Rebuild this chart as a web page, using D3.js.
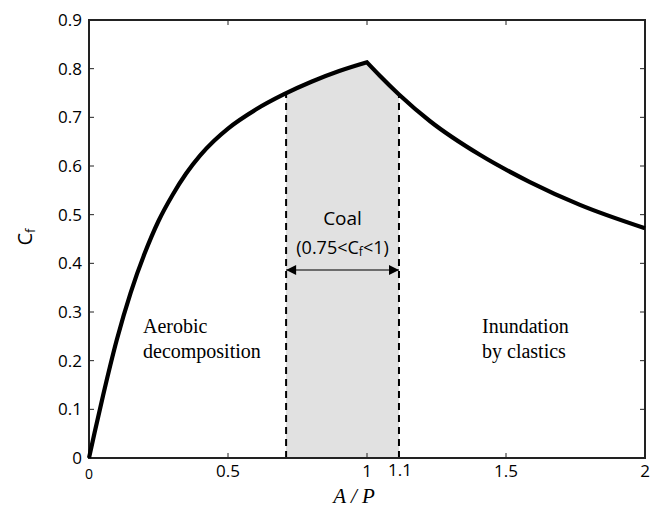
<!DOCTYPE html>
<html><head><meta charset="utf-8">
<script src="https://cdn.jsdelivr.net/npm/d3@7"></script>
<style>body{margin:0;background:#fff}svg{display:block}</style>
</head><body>
<svg id="c" width="653" height="508"></svg>
<script>
// rising branch (aerobic decomposition side)
const riseX = [0, 0.02, 0.05, 0.1, 0.15, 0.2, 0.25, 0.3, 0.35, 0.4, 0.45, 0.5, 0.6, 0.7, 0.8, 0.9, 1.0];
const riseY = [0, 0.052, 0.127, 0.243, 0.340, 0.420, 0.487, 0.540, 0.585, 0.622, 0.652, 0.677, 0.716, 0.747, 0.773, 0.795, 0.813];
// falling branch (inundation side)
const fallX = [1.0, 1.047, 1.115, 1.227, 1.406, 1.586, 1.766, 2.0];
const fallY = [0.813, 0.785, 0.747, 0.692, 0.623, 0.567, 0.520, 0.472];
const coalBounds = [0.709, 1.115];
const coalThreshold = 0.75;
const xTicks = [0, 0.5, 1, 1.5, 2];
const xTickLabels = ["0", "0.5", "1", "1.5", "2"];
const yTicks = [0, 0.1, 0.2, 0.3, 0.4, 0.5, 0.6, 0.7, 0.8, 0.9];
const yTickLabels = ["0", "0.1", "0.2", "0.3", "0.4", "0.5", "0.6", "0.7", "0.8", "0.9"];
const extraXLabel = "1.1";

const svg = d3.select("#c");
const L = 89, R = 645, T = 20, B = 458;
const x = d3.scaleLinear().domain([0, 2]).range([L, R]);
const y = d3.scaleLinear().domain([0, 0.9]).range([B, T]);

const rise = riseX.map((v, i) => [v, riseY[i]]);
const fall = fallX.map((v, i) => [v, fallY[i]]);
const line = d3.line().x(d => x(d[0])).y(d => y(d[1])).curve(d3.curveMonotoneX);
const pathD = line(rise) + line(fall).replace(/^M/, "L");

// shaded coal region
svg.append("clipPath").attr("id", "coalclip").append("rect")
  .attr("x", x(coalBounds[0])).attr("y", T).attr("width", x(coalBounds[1]) - x(coalBounds[0])).attr("height", B - T);
svg.append("path").attr("d", pathD + `L${x(2)},${y(0)}L${x(0)},${y(0)}Z`)
  .attr("fill", "#e1e1e1").attr("clip-path", "url(#coalclip)");

// dashed boundaries
coalBounds.forEach(b => {
  svg.append("line").attr("x1", x(b)).attr("x2", x(b)).attr("y1", y(0)).attr("y2", y(coalThreshold))
    .attr("stroke", "#000").attr("stroke-width", 2).attr("stroke-dasharray", "7,5");
});

// axes box
const ax = svg.append("g").attr("stroke", "#222").attr("stroke-width", 2).attr("fill", "none");
ax.append("rect").attr("x", L).attr("y", T).attr("width", R - L).attr("height", B - T);
const tl = 5;
xTicks.forEach(t => {
  ax.append("line").attr("x1", x(t)).attr("x2", x(t)).attr("y1", B).attr("y2", B - tl).attr("stroke-width", 1);
  ax.append("line").attr("x1", x(t)).attr("x2", x(t)).attr("y1", T).attr("y2", T + tl).attr("stroke-width", 1);
});
yTicks.forEach(t => {
  ax.append("line").attr("x1", L).attr("x2", L + tl).attr("y1", y(t)).attr("y2", y(t)).attr("stroke-width", 1);
  ax.append("line").attr("x1", R).attr("x2", R - tl).attr("y1", y(t)).attr("y2", y(t)).attr("stroke-width", 1);
});

const sans = "'Open Sans', 'Noto Sans', sans-serif";
const serif = "'Liberation Serif', 'Times New Roman', serif";

xTicks.forEach((t, i) => {
  svg.append("text").attr("x", x(t)).attr("y", i === 0 ? 479 : 477)
    .attr("text-anchor", "middle").attr("font-family", sans).attr("font-size", i === 0 ? 14 : 17)
    .attr("fill", "#000").text(xTickLabels[i]);
});
svg.append("text").attr("x", x(coalBounds[1]) + 1).attr("y", 476)
  .attr("text-anchor", "middle").attr("font-family", sans).attr("font-size", 17).text(extraXLabel);

yTicks.forEach((t, i) => {
  svg.append("text").attr("x", 82).attr("y", y(t)).attr("dy", "0.35em")
    .attr("text-anchor", "end").attr("font-family", sans).attr("font-size", 17)
    .attr("fill", "#000").text(yTickLabels[i]);
});

// curve
svg.append("path").attr("d", pathD).attr("fill", "none").attr("stroke", "#000")
  .attr("stroke-width", 4.2).attr("stroke-linejoin", "miter");

// axis labels
svg.append("text").attr("x", 354).attr("y", 503).attr("text-anchor", "middle")
  .attr("font-family", serif).attr("font-style", "italic").attr("font-size", 21).text("A / P");
const yl = svg.append("text").attr("transform", "translate(32,237) rotate(-90)")
  .attr("text-anchor", "middle").attr("font-family", sans).attr("font-size", 20);
yl.append("tspan").text("C");
yl.append("tspan").attr("font-size", 13).attr("dy", 3).text("f");

// annotations
const t1 = svg.append("text").attr("font-family", serif).attr("font-size", 20);
t1.append("tspan").attr("x", 143).attr("y", 333).text("Aerobic");
t1.append("tspan").attr("x", 143).attr("y", 358).text("decomposition");
const t2 = svg.append("text").attr("font-family", serif).attr("font-size", 20);
t2.append("tspan").attr("x", 482).attr("y", 333).text("Inundation");
t2.append("tspan").attr("x", 482).attr("y", 358).text("by clastics");

const cx = (x(coalBounds[0]) + x(coalBounds[1])) / 2;
svg.append("text").attr("x", cx).attr("y", 225).attr("text-anchor", "middle")
  .attr("font-family", sans).attr("font-size", 19).text("Coal");
const ct = svg.append("text").attr("x", cx).attr("y", 254).attr("text-anchor", "middle")
  .attr("font-family", sans).attr("font-size", 18);
ct.append("tspan").text("(0.75<C");
ct.append("tspan").attr("font-size", 12).attr("dy", 2).text("f");
ct.append("tspan").attr("dy", -2).text("<1)");

// double arrow
const defs = svg.append("defs");
["s", "e"].forEach(k => {
  defs.append("marker").attr("id", "ar" + k).attr("viewBox", "0 0 10 10").attr("refX", 10).attr("refY", 5)
    .attr("markerWidth", 12).attr("markerHeight", 10).attr("markerUnits", "userSpaceOnUse")
    .attr("orient", k === "e" ? "auto" : "auto-start-reverse")
    .append("path").attr("d", "M0,0L10,5L0,10Z").attr("fill", "#000");
});
svg.append("line").attr("x1", x(coalBounds[0])).attr("x2", x(coalBounds[1])).attr("y1", 270).attr("y2", 270)
  .attr("stroke", "#444").attr("stroke-width", 1.5)
  .attr("marker-start", "url(#ars)").attr("marker-end", "url(#are)");
</script>
</body></html>
